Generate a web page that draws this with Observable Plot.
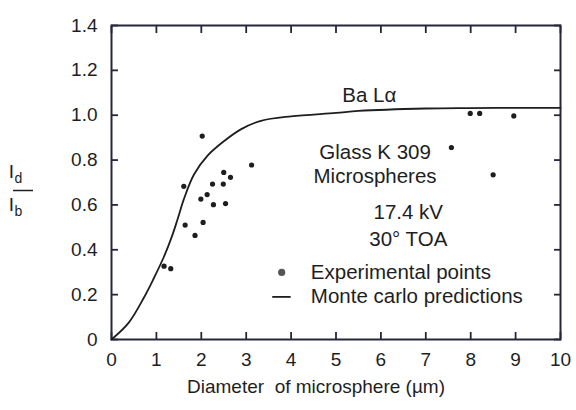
<!DOCTYPE html>
<html><head><meta charset="utf-8">
<script src="https://cdn.jsdelivr.net/npm/d3@7"></script>
<script src="https://cdn.jsdelivr.net/npm/@observablehq/plot@0.6"></script>
<style>
html,body{margin:0;padding:0;background:#fff;}
#chart{width:576px;height:410px;}
</style></head><body><div id="chart"></div>
<script>
// Experimental points (diameter µm, Id/Ib)
const expDiameter = [2.02, 3.12, 2.50, 2.65, 2.25, 2.49, 1.61, 2.13, 1.99, 2.27, 2.54, 1.64, 2.04, 1.86, 1.17, 1.32, 7.99, 8.20, 8.96, 7.57, 8.50];
const expRatio    = [0.907, 0.778, 0.745, 0.723, 0.693, 0.693, 0.683, 0.646, 0.626, 0.601, 0.606, 0.510, 0.522, 0.464, 0.327, 0.316, 1.008, 1.008, 0.997, 0.856, 0.734];
// Monte Carlo prediction curve
const mcDiameter = [0, 0.38, 0.72, 0.94, 1.17, 1.35, 1.47, 1.61, 1.84, 2.14, 2.51, 2.88, 3.33, 4.0, 5.0, 5.5, 7.0, 8.0, 9.0, 10.0];
const mcRatio    = [0, 0.074, 0.186, 0.272, 0.370, 0.462, 0.535, 0.625, 0.737, 0.820, 0.885, 0.937, 0.975, 0.995, 1.01, 1.019, 1.03, 1.032, 1.033, 1.033];
// Ticks
const xTicks = [0, 1, 2, 3, 4, 5, 6, 7, 8, 9, 10];
const yTicks = [0, 0.2, 0.4, 0.6, 0.8, 1.0, 1.2, 1.4];
const yTickLabels = ["0", "0.2", "0.4", "0.6", "0.8", "1.0", "1.2", "1.4"];
const xLabel = "Diameter  of microsphere (µm)";
const annotations = ["Ba Lα", "Glass K 309", "Microspheres", "17.4 kV", "30° TOA"];
const legendLabels = ["Experimental points", "Monte carlo predictions"];

const expData = expDiameter.map((d, i) => ({d, r: expRatio[i]}));
const mcData = mcDiameter.map((d, i) => ({d, r: mcRatio[i]}));

const ink = "#1e1e1e";
const frameInk = "#26263a";
const annoFont = {fontSize: 20.5, fill: ink};
const tickStyle = {stroke: frameInk, strokeWidth: 1.8, tickSize: 7, label: null, tickFormat: () => ""};

const chart = Plot.plot({
  width: 576, height: 410,
  marginLeft: 111, marginRight: 16, marginTop: 25, marginBottom: 71,
  style: {fontFamily: "'Liberation Sans', Arial, Helvetica, sans-serif", fontSize: "19px", color: ink, background: "#fff"},
  x: {domain: [0, 10]},
  y: {domain: [0, 1.4]},
  marks: [
    // inward tick marks on all four sides
    Plot.axisX(xTicks, {anchor: "bottom", dy: -7, ...tickStyle}),
    Plot.axisX(xTicks, {anchor: "top", dy: 7, ...tickStyle}),
    Plot.axisY(yTicks, {anchor: "left", dx: 7, ...tickStyle}),
    Plot.axisY(yTicks, {anchor: "right", dx: -7, ...tickStyle}),
    // tick labels
    Plot.axisX(xTicks, {anchor: "bottom", tickSize: 0, tickPadding: 13, label: null, fill: ink}),
    Plot.axisY(yTicks, {anchor: "left", tickSize: 0, tickPadding: 14, tickFormat: d => yTickLabels[yTicks.indexOf(d)], label: null, fill: ink}),
    Plot.frame({stroke: frameInk, strokeWidth: 2}),
    Plot.line(mcData, {x: "d", y: "r", curve: "catmull-rom", stroke: ink, strokeWidth: 1.8}),
    Plot.dot(expData, {x: "d", y: "r", r: 2.6, fill: ink, stroke: "none"}),
    Plot.text([annotations[0]], {x: 5.74, y: 1.086, text: d => d, ...annoFont}),
    Plot.text([annotations[1]], {x: 5.87, y: 0.836, text: d => d, ...annoFont}),
    Plot.text([annotations[2]], {x: 5.87, y: 0.729, text: d => d, ...annoFont}),
    Plot.text([annotations[3]], {x: 6.61, y: 0.567, text: d => d, ...annoFont}),
    Plot.text([annotations[4]], {x: 6.61, y: 0.446, text: d => d, ...annoFont}),
    // legend
    Plot.dot([legendLabels[0]], {x: 3.79, y: 0.299, r: 3.6, fill: "#555", stroke: "none"}),
    Plot.text([legendLabels[0]], {x: 4.44, y: 0.299, text: d => d, textAnchor: "start", ...annoFont}),
    Plot.link([legendLabels[1]], {x1: 3.58, x2: 3.99, y1: 0.19, y2: 0.19, stroke: ink, strokeWidth: 1.8}),
    Plot.text([legendLabels[1]], {x: 4.44, y: 0.19, text: d => d, textAnchor: "start", ...annoFont}),
    // x axis label
    Plot.text([xLabel], {frameAnchor: "bottom", dx: -20, dy: 53, text: d => d, fontSize: 19, fill: ink})
  ]
});

document.getElementById("chart").appendChild(chart);

// y-axis label: I_d / I_b fraction
const svg = d3.select(chart);
const g = svg.append("g").attr("fill", ink).attr("font-family", "'Liberation Sans', Arial, Helvetica, sans-serif");
const t1 = g.append("text").attr("x", 15.5).attr("y", 178).attr("font-size", 19).text("I");
t1.append("tspan").attr("font-size", 14).attr("dy", 4.5).attr("dx", 0.5).text("d");
g.append("line").attr("x1", 13).attr("x2", 33).attr("y1", 190.5).attr("y2", 190.5).attr("stroke", ink).attr("stroke-width", 1.5);
const t2 = g.append("text").attr("x", 15.5).attr("y", 211).attr("font-size", 19).text("I");
t2.append("tspan").attr("font-size", 14).attr("dy", 4.5).attr("dx", 0.5).text("b");
</script>
</body></html>
